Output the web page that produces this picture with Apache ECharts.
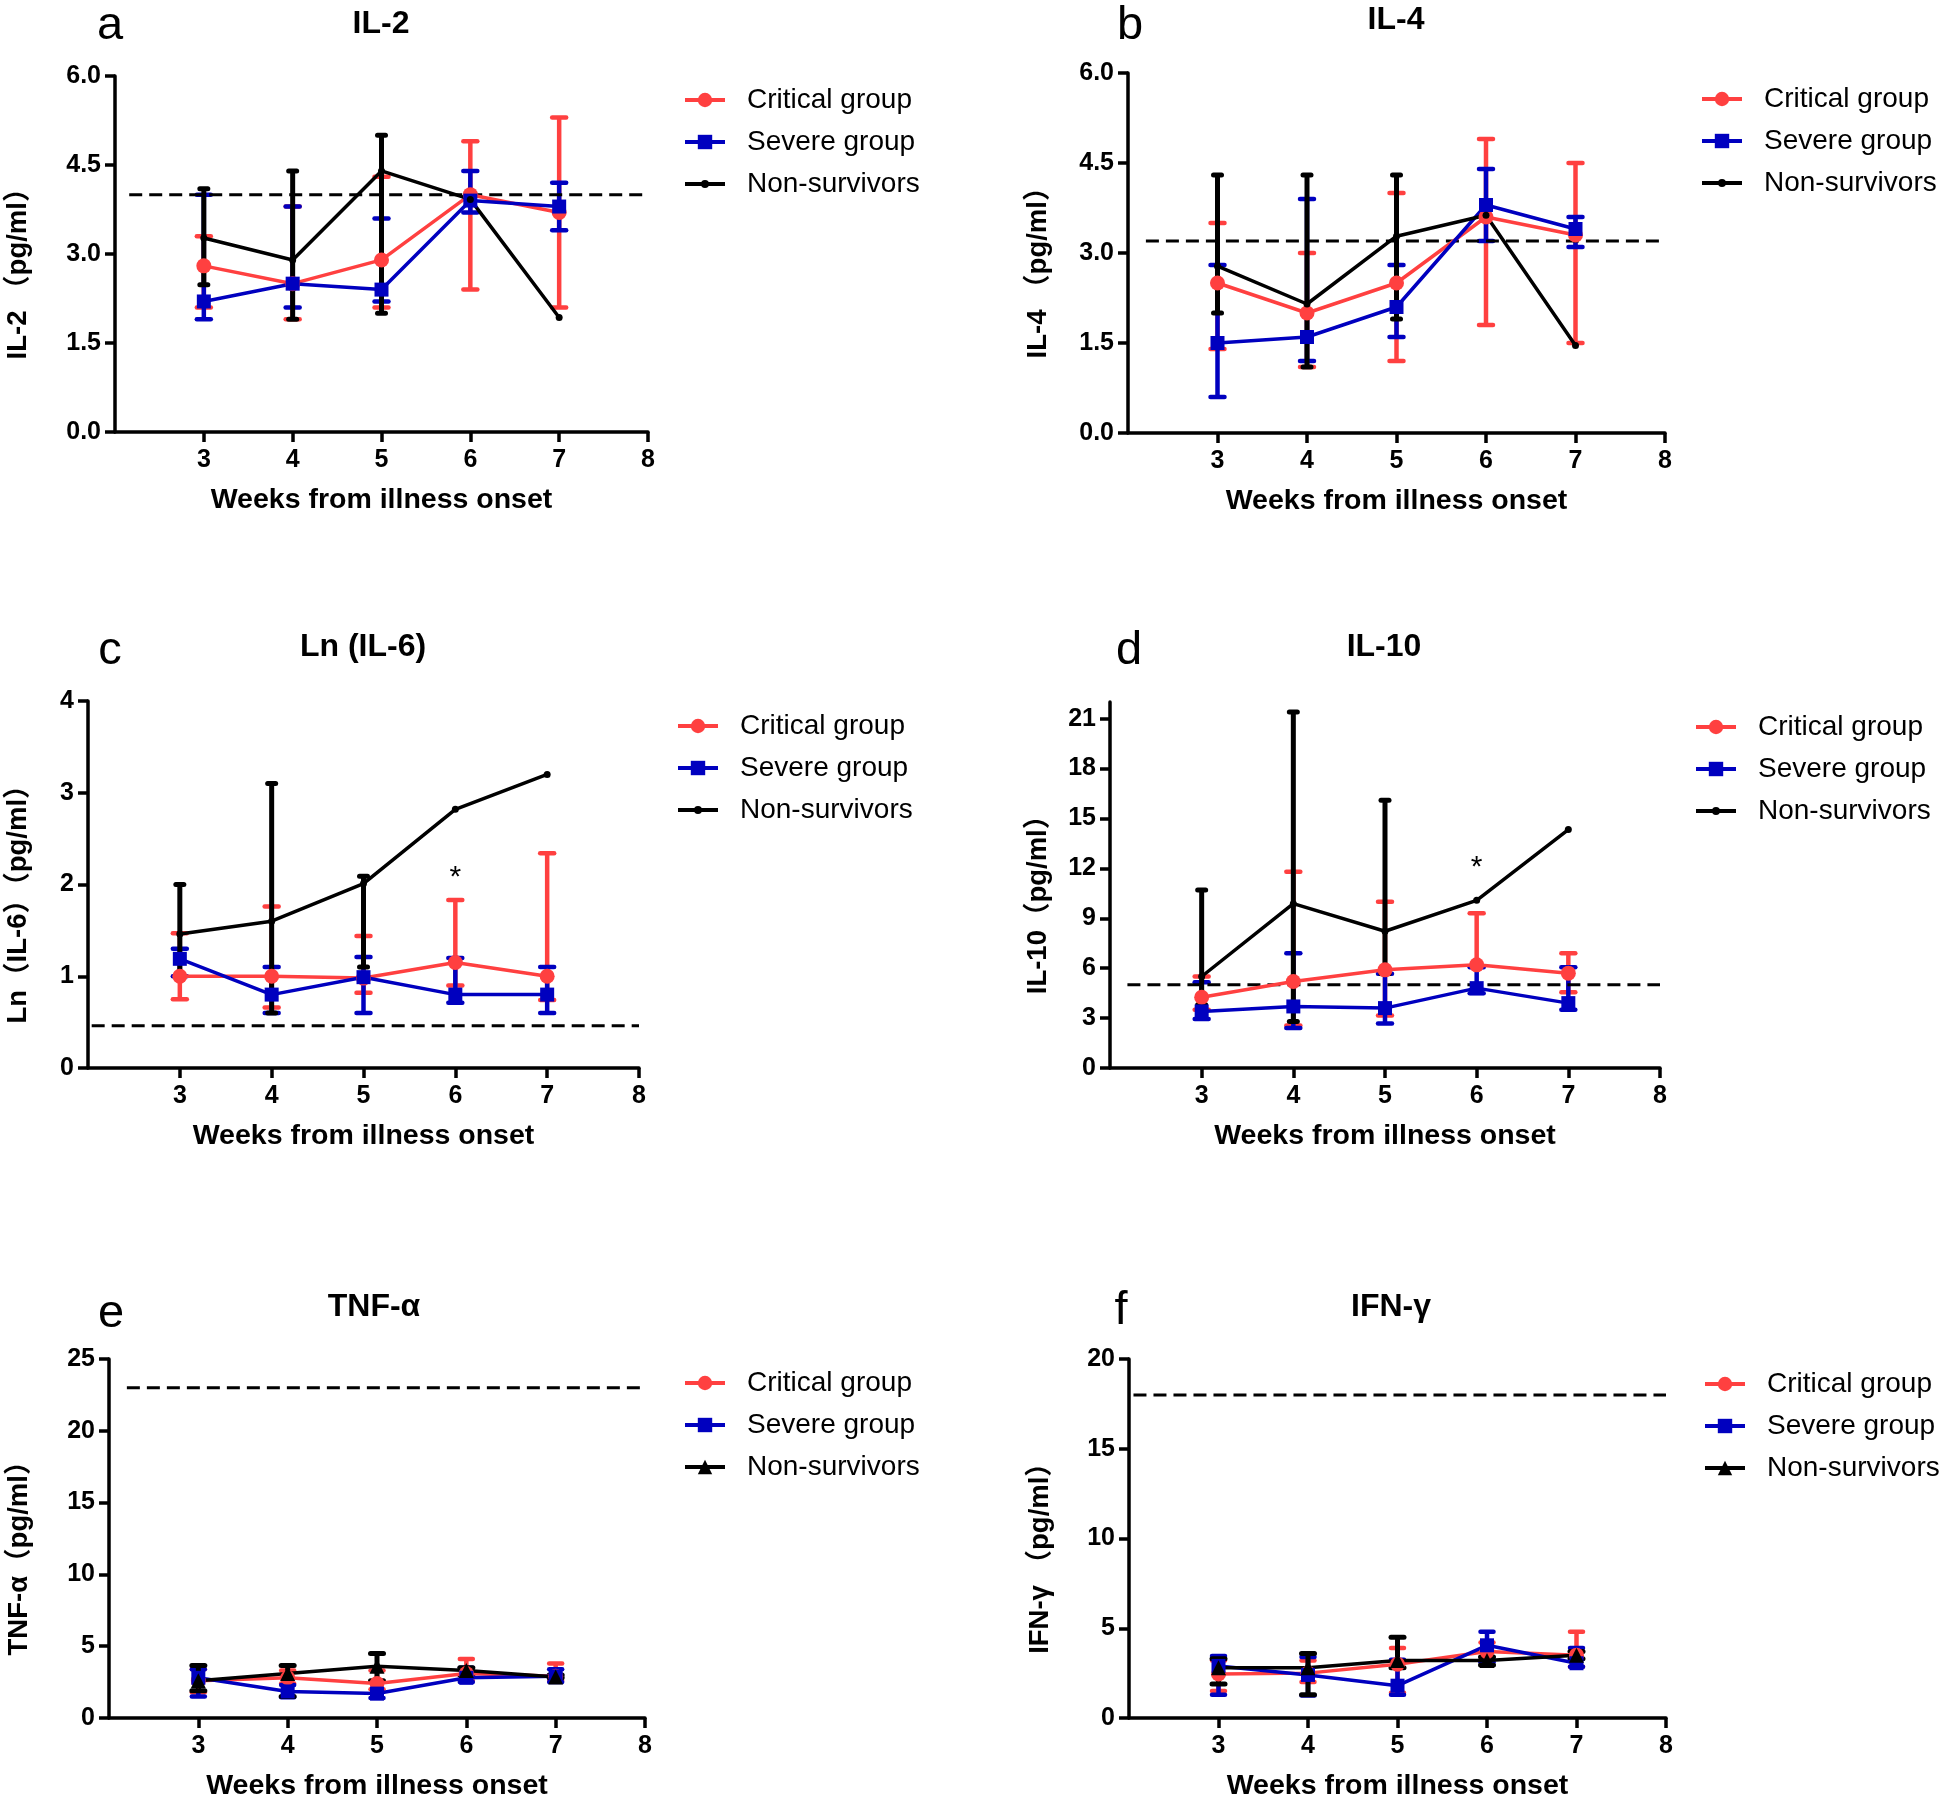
<!DOCTYPE html>
<html>
<head>
<meta charset="utf-8">
<script src="https://cdn.jsdelivr.net/npm/echarts@6/dist/echarts.min.js"></script>
<style>
html, body { margin:0; padding:0; background:#fff; width:1946px; height:1799px; overflow:hidden; }
.p { position:absolute; left:0; top:0; width:1946px; height:1799px; }
</style>
</head>
<body>
<div id="c0" class="p"></div>
<div id="c1" class="p"></div>
<div id="c2" class="p"></div>
<div id="c3" class="p"></div>
<div id="c4" class="p"></div>
<div id="c5" class="p"></div>
<script>
// ---------------- DATA ----------------
const weeks = [3, 4, 5, 6, 7];
const xTickValues = [3, 4, 5, 6, 7, 8];
const groupNames = ['Critical group', 'Severe group', 'Non-survivors'];

// (a) IL-2
const il2CriticalMean = [2.8, 2.5, 2.9, 4.0, 3.7];
const il2CriticalLow  = [2.1, 1.9, 2.1, 2.4, 2.1];
const il2CriticalHigh = [3.3, 3.8, 4.3, 4.9, 5.3];
const il2SevereMean   = [2.2, 2.5, 2.4, 3.9, 3.8];
const il2SevereLow    = [1.9, 2.1, 2.2, 3.7, 3.4];
const il2SevereHigh   = [4.0, 3.8, 3.6, 4.4, 4.2];
const il2NonSurvMean  = [3.27, 2.9, 4.4, 3.92, 1.93];
const il2NonSurvLow   = [2.48, 1.9, 2.0, null, null];
const il2NonSurvHigh  = [4.1, 4.4, 5.0, null, null];
const il2Ticks = [0, 1.5, 3, 4.5, 6];
const il2Cutoff = 4.0;

// (b) IL-4
const il4CriticalMean = [2.5, 2.0, 2.5, 3.6, 3.3];
const il4CriticalLow  = [1.4, 1.1, 1.2, 1.8, 1.5];
const il4CriticalHigh = [3.5, 3.0, 4.0, 4.9, 4.5];
const il4SevereMean   = [1.5, 1.6, 2.1, 3.8, 3.4];
const il4SevereLow    = [0.6, 1.2, 1.6, 3.2, 3.1];
const il4SevereHigh   = [2.8, 3.9, 2.8, 4.4, 3.6];
const il4NonSurvMean  = [2.78, 2.15, 3.28, 3.63, 1.46];
const il4NonSurvLow   = [2.0, 1.1, 1.9, null, null];
const il4NonSurvHigh  = [4.3, 4.3, 4.3, null, null];
const il4Ticks = [0, 1.5, 3, 4.5, 6];
const il4Cutoff = 3.2;

// (c) Ln(IL-6)
const il6CriticalMean = [1.0, 1.0, 0.98, 1.15, 1.0];
const il6CriticalLow  = [0.75, 0.66, 0.82, 0.9, 0.74];
const il6CriticalHigh = [1.47, 1.76, 1.44, 1.83, 2.34];
const il6SevereMean   = [1.19, 0.8, 0.99, 0.8, 0.8];
const il6SevereLow    = [1.0, 0.6, 0.6, 0.71, 0.6];
const il6SevereHigh   = [1.3, 1.1, 1.21, 1.2, 1.1];
const il6NonSurvMean  = [1.46, 1.6, 2.01, 2.82, 3.2];
const il6NonSurvLow   = [1.0, 0.6, 1.1, null, null];
const il6NonSurvHigh  = [2.0, 3.1, 2.09, null, null];
const il6Ticks = [0, 1, 2, 3, 4];
const il6Cutoff = 0.46;
const il6Star = [6, 2.16];

// (d) IL-10
const il10CriticalMean = [4.25, 5.2, 5.9, 6.2, 5.7];
const il10CriticalLow  = [3.5, 2.55, 3.15, null, 4.55];
const il10CriticalHigh = [5.5, 11.8, 10.0, 9.3, 6.9];
const il10SevereMean   = [3.4, 3.7, 3.6, 4.8, 3.9];
const il10SevereLow    = [2.95, 2.4, 2.67, 4.5, 3.5];
const il10SevereHigh   = [5.15, 6.9, 5.67, 6.05, 6.05];
const il10NonSurvMean  = [5.5, 9.88, 8.22, 10.08, 14.33];
const il10NonSurvLow   = [3.8, 2.8, 5.67, null, null];
const il10NonSurvHigh  = [10.7, 21.4, 16.1, null, null];
const il10Ticks = [0, 3, 6, 9, 12, 15, 18, 21];
const il10Cutoff = 5.0;
const il10Star = [6, 12.5];

// (e) TNF-alpha
const tnfCriticalMean = [2.6, 2.8, 2.4, 3.1, 2.9];
const tnfCriticalLow  = [1.8, 2.4, 2.0, 2.6, 2.6];
const tnfCriticalHigh = [3.4, 3.3, 3.3, 4.1, 3.8];
const tnfSevereMean   = [2.8, 1.85, 1.7, 2.8, 2.9];
const tnfSevereLow    = [1.5, 1.45, 1.4, 2.5, 2.5];
const tnfSevereHigh   = [3.4, 2.3, 2.5, 3.5, 3.4];
const tnfNonSurvMean  = [2.6, 3.1, 3.6, 3.3, 2.85];
const tnfNonSurvLow   = [1.9, 1.5, 2.6, 3.0, 2.8];
const tnfNonSurvHigh  = [3.65, 3.65, 4.5, 3.5, 3.0];
const tnfTicks = [0, 5, 10, 15, 20, 25];
const tnfCutoff = 23;

// (f) IFN-gamma
const ifnCriticalMean = [2.45, 2.5, 3.0, 3.7, 3.5];
const ifnCriticalLow  = [1.5, 2.0, 1.4, 3.2, 2.85];
const ifnCriticalHigh = [3.2, 3.2, 3.9, 4.2, 4.8];
const ifnSevereMean   = [2.9, 2.4, 1.8, 4.05, 3.05];
const ifnSevereLow    = [1.3, 1.25, 1.3, 3.1, 2.85];
const ifnSevereHigh   = [3.45, 3.4, 3.25, 4.8, 3.9];
const ifnNonSurvMean  = [2.8, 2.8, 3.2, 3.2, 3.5];
const ifnNonSurvLow   = [1.9, 1.3, 2.8, 2.95, 3.3];
const ifnNonSurvHigh  = [3.3, 3.6, 4.5, 3.4, 3.7];
const ifnTicks = [0, 5, 10, 15, 20];
const ifnCutoff = 18;

// ---------------- STYLE / LAYOUT ----------------
const FONT = "'Liberation Sans', Arial, Helvetica, 'Noto Sans CJK SC', sans-serif";
const COLORS = ['#FF4040', '#0000BF', '#000000'];
const DOT_ICON = 'path://M0,8h40v4H0z M16,10a4,4 0 1,1 8,0a4,4 0 1,1 -8,0z';

const panels = [
  { letter:'a', title:'IL-2', yName:'IL-2 （pg/ml）', yMax:6, yTicks:il2Ticks, dec:1, cutoff:il2Cutoff, star:null, nonSym:'circle',
    groups:[[il2CriticalMean, il2CriticalLow, il2CriticalHigh],[il2SevereMean, il2SevereLow, il2SevereHigh],[il2NonSurvMean, il2NonSurvLow, il2NonSurvHigh]],
    L:{ grid:{left:115, top:76, width:533, height:356}, nameGap:83, title:[381,24], letterPos:[110,26], legend:[683,85], cutFrom:2.16 } },
  { letter:'b', title:'IL-4', yName:'IL-4 （pg/ml）', yMax:6, yTicks:il4Ticks, dec:1, cutoff:il4Cutoff, star:null, nonSym:'circle',
    groups:[[il4CriticalMean, il4CriticalLow, il4CriticalHigh],[il4SevereMean, il4SevereLow, il4SevereHigh],[il4NonSurvMean, il4NonSurvLow, il4NonSurvHigh]],
    L:{ grid:{left:1128, top:73, width:537, height:360}, nameGap:76, title:[1396,20], letterPos:[1130,26], legend:[1700,84], cutFrom:2.2 } },
  { letter:'c', title:'Ln (IL-6)', yName:'Ln（IL-6）（pg/ml）', yMax:4, yTicks:il6Ticks, dec:0, cutoff:il6Cutoff, star:il6Star, nonSym:'circle',
    groups:[[il6CriticalMean, il6CriticalLow, il6CriticalHigh],[il6SevereMean, il6SevereLow, il6SevereHigh],[il6NonSurvMean, il6NonSurvLow, il6NonSurvHigh]],
    L:{ grid:{left:88, top:701, width:551, height:367}, nameGap:56, title:[363,647], letterPos:[110,651], legend:[676,711], cutFrom:2.04 } },
  { letter:'d', title:'IL-10', yName:'IL-10（pg/ml）', yMax:22, yTicks:il10Ticks, dec:0, cutoff:il10Cutoff, star:il10Star, nonSym:'circle',
    groups:[[il10CriticalMean, il10CriticalLow, il10CriticalHigh],[il10SevereMean, il10SevereLow, il10SevereHigh],[il10NonSurvMean, il10NonSurvLow, il10NonSurvHigh]],
    L:{ grid:{left:1110, top:702, width:550, height:366}, nameGap:58, title:[1384,647], letterPos:[1129,651], legend:[1694,712], cutFrom:2.19 } },
  { letter:'e', title:'TNF-α', yName:'TNF-α（pg/ml）', yMax:25, yTicks:tnfTicks, dec:0, cutoff:tnfCutoff, star:null, nonSym:'triangle',
    groups:[[tnfCriticalMean, tnfCriticalLow, tnfCriticalHigh],[tnfSevereMean, tnfSevereLow, tnfSevereHigh],[tnfNonSurvMean, tnfNonSurvLow, tnfNonSurvHigh]],
    L:{ grid:{left:109, top:1359, width:536, height:359}, nameGap:76, title:[374,1307], letterPos:[111,1314], legend:[683,1368], cutFrom:2.2 } },
  { letter:'f', title:'IFN-γ', yName:'IFN-γ （pg/ml）', yMax:20, yTicks:ifnTicks, dec:0, cutoff:ifnCutoff, star:null, nonSym:'triangle',
    groups:[[ifnCriticalMean, ifnCriticalLow, ifnCriticalHigh],[ifnSevereMean, ifnSevereLow, ifnSevereHigh],[ifnNonSurvMean, ifnNonSurvLow, ifnNonSurvHigh]],
    L:{ grid:{left:1129, top:1359, width:537, height:359}, nameGap:75, title:[1391,1307], letterPos:[1121,1311], legend:[1703,1369], cutFrom:2.05 } }
];

// ---------------- BUILDERS ----------------
function errData(mean, low, high) {
  return weeks.map((w, i) => {
    const lo = low[i] == null ? mean[i] : low[i];
    const hi = high[i] == null ? mean[i] : high[i];
    return [w, lo, hi, low[i] == null ? 0 : 1, high[i] == null ? 0 : 1];
  });
}

function errSeries(id, data, color, capHalf, lw) {
  return {
    type: 'custom', name: id, data: data, clip: false, silent: true,
    dimensions: ['x', 'lo', 'hi', 'hasLo', 'hasHi'],
    encode: { x: 0, y: [1, 2] },
    renderItem: function (params, api) {
      const x = api.value(0);
      const pLo = api.coord([x, api.value(1)]);
      const pHi = api.coord([x, api.value(2)]);
      const children = [];
      const st = { stroke: color, lineWidth: lw, lineCap: 'butt' };
      const cap = { stroke: color, lineWidth: lw, lineCap: 'round' };
      if (Math.abs(pLo[1] - pHi[1]) > 0.5) {
        children.push({ type: 'line', shape: { x1: pLo[0], y1: pLo[1], x2: pHi[0], y2: pHi[1] }, style: st });
      }
      if (api.value(3)) children.push({ type: 'line', shape: { x1: pLo[0] - capHalf, y1: pLo[1], x2: pLo[0] + capHalf, y2: pLo[1] }, style: cap });
      if (api.value(4)) children.push({ type: 'line', shape: { x1: pHi[0] - capHalf, y1: pHi[1], x2: pHi[0] + capHalf, y2: pHi[1] }, style: cap });
      return { type: 'group', children: children };
    }
  };
}

function buildOption(p) {
  const L = p.L;
  const big = p.nonSym === 'triangle';
  const symbols = ['circle', 'rect', p.nonSym];
  const symbolSizes = [15, 14, big ? 15 : 7];
  const capHalves = big ? [6.5, 6.5, 6.5] : [7, 7, 4];
  const errWidths = [4.5, 4.5, 5];

  const series = [];
  series.push({
    type: 'line', name: 'cutoff', silent: true, symbol: 'none', clip: false,
    data: [[L.cutFrom, p.cutoff], [8, p.cutoff]],
    lineStyle: { color: '#000', width: 3, type: [13, 7] }
  });
  p.groups.forEach((g, k) => {
    series.push(errSeries('err' + k, errData(g[0], g[1], g[2]), COLORS[k], capHalves[k], errWidths[k]));
    series.push({
      type: 'line', name: groupNames[k], silent: true, clip: false,
      data: weeks.map((w, i) => [w, g[0][i]]),
      symbol: symbols[k], symbolSize: symbolSizes[k], showSymbol: true,
      lineStyle: { color: COLORS[k], width: 3.5 },
      itemStyle: { color: COLORS[k] },
      emphasis: { disabled: true }
    });
  });
  if (p.star) {
    series.push({
      type: 'custom', name: 'sig', silent: true, clip: false, data: [p.star],
      encode: { x: 0, y: 1 },
      renderItem: function (params, api) {
        const pt = api.coord([api.value(0), api.value(1)]);
        return { type: 'text', x: pt[0], y: pt[1] + 8,
          style: { text: '*', fill: '#000', font: '30px ' + FONT,
                   align: 'center', verticalAlign: 'middle', textAlign: 'center', textVerticalAlign: 'middle' } };
      }
    });
  }

  const legendData = [{ name: groupNames[0] }, { name: groupNames[1] },
    big ? { name: groupNames[2] } : { name: groupNames[2], icon: DOT_ICON }];

  return {
    animation: false,
    backgroundColor: 'transparent',
    textStyle: { fontFamily: FONT },
    grid: Object.assign({ containLabel: false, outerBoundsMode: 'none' }, L.grid),
    graphic: [
      { type: 'text', x: L.title[0], y: L.title[1], silent: true,
        style: { text: p.title, font: 'bold 32px ' + FONT, fill: '#000',
                 align: 'center', verticalAlign: 'middle', textAlign: 'center', textVerticalAlign: 'middle' } },
      { type: 'text', x: L.letterPos[0], y: L.letterPos[1], silent: true,
        style: { text: p.letter, font: '47px ' + FONT, fill: '#000',
                 align: 'center', verticalAlign: 'middle', textAlign: 'center', textVerticalAlign: 'middle' } }
    ],
    legend: {
      orient: 'vertical', left: L.legend[0], top: L.legend[1], padding: 0,
      itemWidth: 40, itemHeight: 18, itemGap: 12, selectedMode: false,
      lineStyle: { width: 4 },
      textStyle: { fontSize: 28, fontFamily: FONT, color: '#000', lineHeight: 30, padding: [0, 0, 0, 17] },
      data: legendData
    },
    xAxis: {
      type: 'value', min: 2, max: 8,
      axisLine: { show: true, onZero: false, lineStyle: { color: '#000', width: 3.5 } },
      axisTick: { show: true, length: 10, customValues: xTickValues, lineStyle: { color: '#000', width: 3.5 } },
      axisLabel: { customValues: xTickValues, margin: 16, fontSize: 25, fontWeight: 'bold', color: '#000', fontFamily: FONT },
      splitLine: { show: false },
      name: 'Weeks from illness onset', nameLocation: 'middle', nameGap: 54,
      nameTextStyle: { fontSize: 28.5, fontWeight: 'bold', color: '#000', fontFamily: FONT }
    },
    yAxis: {
      type: 'value', min: 0, max: p.yMax,
      axisLine: { show: true, onZero: false, lineStyle: { color: '#000', width: 3.5 } },
      axisTick: { show: true, length: 10, customValues: p.yTicks, lineStyle: { color: '#000', width: 3.5 } },
      axisLabel: { customValues: p.yTicks, margin: 14, fontSize: 25, fontWeight: 'bold', color: '#000', fontFamily: FONT,
                   formatter: function (v) { return Number(v).toFixed(p.dec); } },
      splitLine: { show: false },
      name: p.yName, nameLocation: 'middle', nameRotate: 90, nameGap: L.nameGap,
      nameTextStyle: { fontSize: 27.5, fontWeight: 'bold', color: '#000', fontFamily: FONT, padding: [0, 26, 0, 0] }
    },
    series: series
  };
}

panels.forEach((p, i) => {
  const chart = echarts.init(document.getElementById('c' + i), null, { renderer: 'canvas' });
  chart.setOption(buildOption(p));
});
</script>
</body>
</html>
